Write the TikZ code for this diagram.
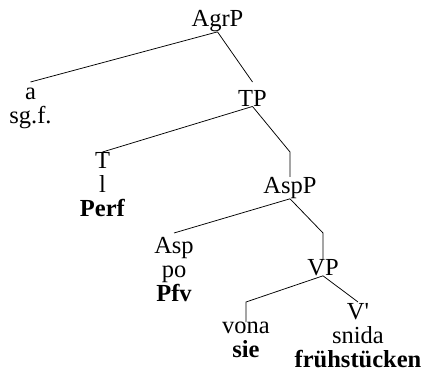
\documentclass[tikz,border=0pt]{standalone}
\usepackage{fontspec}
\setmainfont{Liberation Serif}
\begin{document}
\begin{tikzpicture}[x=1pt,y=-1pt,
    lbl/.style={anchor=north,inner sep=0pt,align=center,font=\fontsize{24.5}{24}\selectfont},
    branch/.style={line width=0.75pt}]
    \useasboundingbox (0,0) rectangle (430,371);
    \node[lbl] (agrp) at (217.5,10) {AgrP};
    \node[lbl] (a) at (30.5,88) {a\\sg.f.};
    \node[lbl] (tp) at (252.5,90) {TP};
    \node[lbl] (t) at (102.5,152) {T\\l\\\textbf{Perf}};
    \node[lbl] (aspp) at (290,177) {AspP};
    \node[lbl] (asp) at (174,237) {Asp\\po\\\textbf{Pfv}};
    \node[lbl] (vp) at (323,259) {VP};
    \node[lbl] (vona) at (246,322) {vona\\\textbf{sie}};
    \node[lbl] (vbar) at (358,303) {V\textquotesingle\\snida\\\textbf{frühstücken}};
    % levels where the branches of each phrase end
    \coordinate (lvlagrp) at (0,82);
    \coordinate (lvltp) at (0,152);
    \coordinate (lvlaspp) at (0,233);
    \coordinate (lvlvp) at (0,302);
    \draw[branch] (agrp.south) -- (a.north |- lvlagrp);
    \draw[branch] (agrp.south) -- (tp.north |- lvlagrp);
    \draw[branch] (tp.south) -- (t.north |- lvltp);
    \draw[branch] (tp.south) -- (aspp.north |- lvltp) -- (aspp.north);
    \draw[branch] (aspp.south) -- (asp.north |- lvlaspp);
    \draw[branch] (aspp.south) -- (vp.north |- lvlaspp) -- (vp.north);
    \draw[branch] (vp.south) -- (vona.north |- lvlvp) -- (vona.north);
    \draw[branch] (vp.south) -- (vbar.north |- lvlvp);
  \end{tikzpicture}
\end{document}
